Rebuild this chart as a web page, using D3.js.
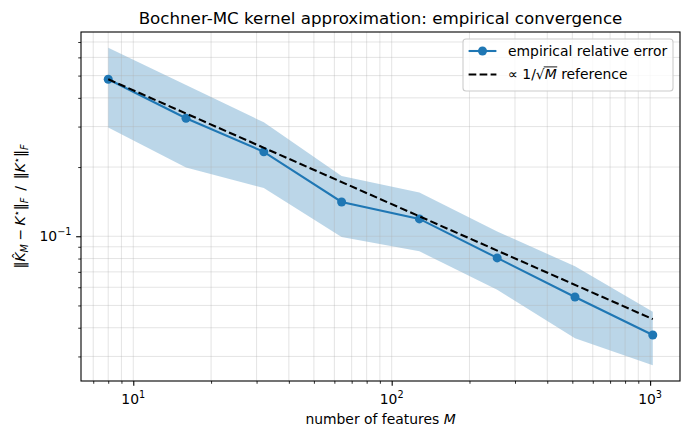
<!DOCTYPE html>
<html>
<head>
<meta charset="utf-8">
<script src="https://cdn.jsdelivr.net/npm/d3@7"></script>
<style>
  body { margin: 0; background: #fff; }
  text { font-family: "DejaVu Sans", sans-serif; fill: #000; }
</style>
</head>
<body>
<svg id="chart" width="690" height="440"></svg>
<script>
// values
const features = [8, 16, 32, 64, 128, 256, 512, 1024];
const relErr   = [0.482, 0.326, 0.233, 0.141, 0.119, 0.0805, 0.0544, 0.0372];
const errUpper = [0.660, 0.455, 0.313, 0.183, 0.155, 0.105, 0.074, 0.0469];
const errLower = [0.297, 0.199, 0.162, 0.0993, 0.086, 0.0585, 0.036, 0.0275];
const refFeatures = [8, 1024];
const refErr      = [0.482, 0.0436];
const legendLabels = ["empirical relative error", "reference"];

const blue = "#1f77b4";
const plotL = 81, plotR = 680, plotT = 32, plotB = 381;
const fs = 13.9;

// matplotlib style 5% margins in log space
function logPad(lo, hi) {
  const a = Math.log10(lo), b = Math.log10(hi), m = (b - a) * 0.05;
  return [Math.pow(10, a - m), Math.pow(10, b + m)];
}
const isMajor = t => Math.abs(Math.log10(t) - Math.round(Math.log10(t))) < 1e-9;

const svg = d3.select("#chart");

const x = d3.scaleLog()
  .domain(logPad(d3.min(features), d3.max(features)))
  .range([plotL, plotR]);
const y = d3.scaleLog()
  .domain(logPad(d3.min(errLower), d3.max(errUpper)))
  .range([plotB, plotT]);

// 1. shaded band
const rows = features.map((m, i) => ({ m: m, v: relErr[i], lo: errLower[i], hi: errUpper[i] }));
svg.append("path")
  .datum(rows)
  .attr("d", d3.area().x(d => x(d.m)).y0(d => y(d.lo)).y1(d => y(d.hi)))
  .attr("fill", blue)
  .attr("fill-opacity", 0.3);

// 2. grid, major and minor
const grid = svg.append("g")
  .attr("stroke", "#b0b0b0")
  .attr("stroke-opacity", 0.38)
  .attr("stroke-width", 0.9);
grid.selectAll("line.gx").data(x.ticks()).join("line")
  .attr("class", "gx")
  .attr("x1", d => x(d)).attr("x2", d => x(d))
  .attr("y1", plotT).attr("y2", plotB);
grid.selectAll("line.gy").data(y.ticks()).join("line")
  .attr("class", "gy")
  .attr("y1", d => y(d)).attr("y2", d => y(d))
  .attr("x1", plotL).attr("x2", plotR);

// 3. lines and markers
svg.append("path")
  .datum(rows)
  .attr("d", d3.line().x(d => x(d.m)).y(d => y(d.v)))
  .attr("fill", "none")
  .attr("stroke", blue)
  .attr("stroke-width", 2.08);
svg.append("g").selectAll("circle").data(rows).join("circle")
  .attr("cx", d => x(d.m)).attr("cy", d => y(d.v))
  .attr("r", 4.5)
  .attr("fill", blue);

svg.append("path")
  .datum(refFeatures.map((m, i) => [m, refErr[i]]))
  .attr("d", d3.line().x(d => x(d[0])).y(d => y(d[1])))
  .attr("fill", "none")
  .attr("stroke", "#000")
  .attr("stroke-width", 2.08)
  .attr("stroke-dasharray", "7.7,3.3");

// 4. ticks
function tickAxis(axis, vals, size, width, tx) {
  const g = svg.append("g")
    .attr("transform", tx)
    .call(axis.tickValues(vals).tickSize(size).tickFormat(""));
  g.select(".domain").remove();
  g.selectAll(".tick line").attr("stroke", "#000").attr("stroke-width", width);
}
const xt = x.ticks(), yt = y.ticks();
tickAxis(d3.axisBottom(x), xt.filter(isMajor), 4.86, 1.1, `translate(0,${plotB})`);
tickAxis(d3.axisBottom(x), xt.filter(t => !isMajor(t)), 2.78, 0.83, `translate(0,${plotB})`);
tickAxis(d3.axisLeft(y), yt.filter(isMajor), 4.86, 1.1, `translate(${plotL},0)`);
tickAxis(d3.axisLeft(y), yt.filter(t => !isMajor(t)), 2.78, 0.83, `translate(${plotL},0)`);

// tick labels as 10^k
function powLabel(sel, t) {
  const k = Math.round(Math.log10(t));
  sel.append("tspan").text("10");
  sel.append("tspan").attr("font-size", 9.7).attr("dy", -5.8)
    .text(k < 0 ? "\u2212" + (-k) : String(k));
}
xt.filter(isMajor).forEach(t => {
  const tx = svg.append("text")
    .attr("x", x(t)).attr("y", 404)
    .attr("text-anchor", "middle")
    .attr("font-size", fs);
  powLabel(tx, t);
});
yt.filter(isMajor).forEach(t => {
  const tx = svg.append("text")
    .attr("x", 71.5).attr("y", y(t) + 5)
    .attr("text-anchor", "end")
    .attr("font-size", fs);
  powLabel(tx, t);
});

// 5. spines
svg.append("rect")
  .attr("x", plotL).attr("y", plotT)
  .attr("width", plotR - plotL).attr("height", plotB - plotT)
  .attr("fill", "none")
  .attr("stroke", "#000")
  .attr("stroke-width", 1.1);

// 6. titles
svg.append("text")
  .attr("x", (plotL + plotR) / 2).attr("y", 23.7)
  .attr("text-anchor", "middle")
  .attr("font-size", 16.7)
  .text("Bochner-MC kernel approximation: empirical convergence");

const xl = svg.append("text")
  .attr("x", (plotL + plotR) / 2).attr("y", 424)
  .attr("text-anchor", "middle")
  .attr("font-size", fs);
xl.append("tspan").text("number of features ");
xl.append("tspan").attr("font-style", "italic").text("M");

// y label: ||K^_M - K*||_F / ||K*||_F
const SUB = 3, SUP = -5.5;
const parts = [
  ["\u2016", "n", 0], ["K\u0302", "i", 0], ["M", "i", SUB],
  ["\u2005\u2212\u2005", "n", 0], ["K", "i", 0], ["\u22c6", "n", SUP],
  ["\u2016", "n", 0], ["F", "i", SUB],
  ["\u2002/\u2002", "n", 0], ["\u2016", "n", 0], ["K", "i", 0], ["\u22c6", "n", SUP],
  ["\u2016", "n", 0], ["F", "i", SUB]
];
const yl = svg.append("text")
  .attr("transform", `translate(25,${(plotT + plotB) / 2}) rotate(-90)`)
  .attr("text-anchor", "middle")
  .attr("font-size", fs);
let shift = 0;
parts.forEach(p => {
  const ts = yl.append("tspan").text(p[0]).attr("dy", p[2] - shift);
  if (p[1] === "i") ts.attr("font-style", "italic");
  if (p[2] !== 0) ts.attr("font-size", 9.7);
  shift = p[2];
});

// 7. legend
const lg = svg.append("g");
lg.append("rect")
  .attr("x", 463).attr("y", 39)
  .attr("width", 210).attr("height", 52)
  .attr("rx", 3)
  .attr("fill", "#fff").attr("fill-opacity", 0.8)
  .attr("stroke", "#cccccc").attr("stroke-width", 1.1);

const hx0 = 468.6, hx1 = 496.4, tx0 = 508;
const row1 = 51, row2 = 74.5;
lg.append("line")
  .attr("x1", hx0).attr("x2", hx1).attr("y1", row1).attr("y2", row1)
  .attr("stroke", blue).attr("stroke-width", 2.08);
lg.append("circle")
  .attr("cx", (hx0 + hx1) / 2).attr("cy", row1).attr("r", 4.5)
  .attr("fill", blue);
lg.append("text")
  .attr("x", tx0).attr("y", row1 + 4.8)
  .attr("font-size", fs)
  .text(legendLabels[0]);

lg.append("line")
  .attr("x1", hx0).attr("x2", hx1).attr("y1", row2).attr("y2", row2)
  .attr("stroke", "#000").attr("stroke-width", 2.08)
  .attr("stroke-dasharray", "7.7,3.3");
const l2 = lg.append("text")
  .attr("x", tx0).attr("y", row2 + 4.8)
  .attr("font-size", fs);
const sA = l2.append("tspan").text("\u221d 1/\u221a");
const sM = l2.append("tspan").attr("font-style", "italic").text("M");
l2.append("tspan").text(" " + legendLabels[1]);
const mStart = tx0 + sA.node().getComputedTextLength();
const mLen = sM.node().getComputedTextLength();
lg.append("line")
  .attr("x1", mStart - 1).attr("x2", mStart + mLen + 0.5)
  .attr("y1", row2 - 7.6).attr("y2", row2 - 7.6)
  .attr("stroke", "#000").attr("stroke-width", 0.9);
</script>
</body>
</html>
